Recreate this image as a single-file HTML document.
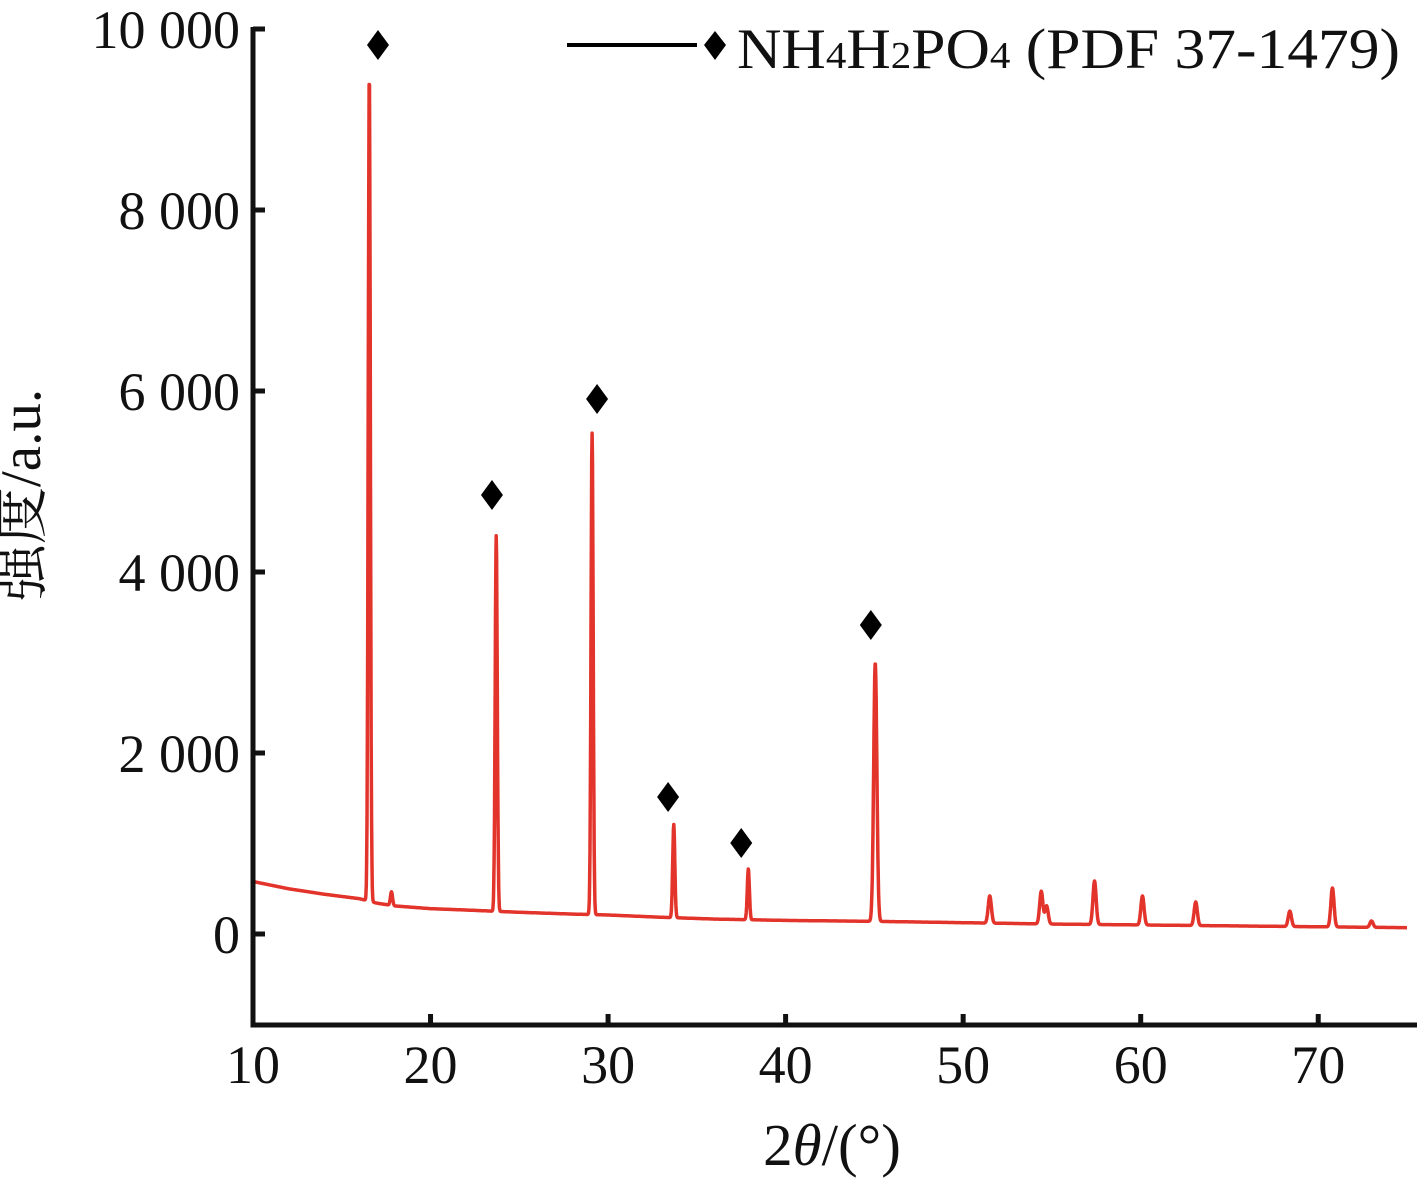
<!DOCTYPE html>
<html><head><meta charset="utf-8"><style>
body{margin:0;background:#fff}
svg text{font-family:"Liberation Serif","Noto Serif CJK SC",serif;fill:#111}
</style></head><body>
<svg id="chart" width="1417" height="1181" viewBox="0 0 1417 1181" xmlns="http://www.w3.org/2000/svg">
<g id="plot"></g>
<text x="40" y="495" font-size="57" text-anchor="middle" transform="rotate(-90 40 495)">强度/a.u.</text>
<text x="832" y="1165" font-size="59" text-anchor="middle">2<tspan font-style="italic">θ</tspan>/(°)</text>
<g>
<line x1="567" y1="45" x2="697" y2="45" stroke="#000" stroke-width="4"/>
<path d="M715,31 L726,45 L715,60 L704,45 Z" fill="#000"/>
<text x="737" y="68" font-size="57" textLength="663" lengthAdjust="spacingAndGlyphs">NH<tspan font-size="38">4</tspan>H<tspan font-size="38">2</tspan>PO<tspan font-size="38">4</tspan> (PDF 37-1479)</text>
</g>
</svg>
<script>
const xTicks=[10,20,30,40,50,60,70];
const yTicks=[0,2000,4000,6000,8000,10000];
const yTickLabels=["0","2 000","4 000","6 000","8 000","10 000"];
const baseX=[10,12,14,16,17,18,20,22,25,28,30,33,36,40,45,50,55,60,65,70,75];
const baseY=[580,500,440,390,340,310,280,265,240,220,210,185,165,150,140,125,110,100,90,80,70];
const peakPos=[16.55,17.8,23.7,29.1,33.7,37.9,45.05,51.5,54.4,54.7,57.4,60.1,63.1,68.4,70.8,73.0];
const peakHeight=[9150,150,4150,5320,1030,560,2860,300,360,200,480,320,260,170,430,70];
const markerX=[17.04,23.46,29.38,33.38,37.5,44.8];
const markerY=[9823,4851,5912,1514,1006,3414];
(function(){
const X0=253,X1=1407,Y0=1025,Y1=30;
const xs=v=>X0+(v-10)/(75-10)*(X1-X0);
const ys=v=>934-v/2000*181;
const NS="http://www.w3.org/2000/svg";
const g=document.getElementById('plot');
function mk(t,a){const e=document.createElementNS(NS,t);for(const k in a)e.setAttribute(k,a[k]);g.appendChild(e);return e;}
function base(x){for(let i=0;i<baseX.length-1;i++){if(x<=baseX[i+1]){const t=(x-baseX[i])/(baseX[i+1]-baseX[i]);return baseY[i]+t*(baseY[i+1]-baseY[i]);}}return baseY[baseY.length-1];}
let d="";
for(let x=10;x<=75.0001;x+=0.02){let y=base(x);for(let i=0;i<peakPos.length;i++){const s=peakPos[i]>40?0.09:0.06;y+=peakHeight[i]*Math.exp(-((x-peakPos[i])*(x-peakPos[i]))/(2*s*s));}
d+=(d?"L":"M")+xs(x).toFixed(1)+","+ys(y).toFixed(1);}
const line=mk('path',{d:d,fill:'none',stroke:'#e3342b','stroke-width':3.5,'stroke-linejoin':'round'});


markerX.forEach((mx,i)=>{const cx=xs(mx),cy=ys(markerY[i]);
const m=mk('path',{d:"M"+cx+","+(cy-15)+" L"+(cx+11)+","+cy+" L"+cx+","+(cy+15)+" L"+(cx-11)+","+cy+" Z",fill:'#000'});

});
const ax=mk('path',{d:"M"+X0+","+(Y1-3)+" L"+X0+","+Y0+" L"+(X1+10)+","+Y0,fill:'none',stroke:'#111','stroke-width':5});


xTicks.forEach(v=>{const x=xs(v);
const t=mk('line',{x1:x,y1:Y0,x2:x,y2:Y0-11,stroke:'#111','stroke-width':5});


const l=mk('text',{x:x,y:1083,'font-size':54,'text-anchor':'middle'});l.textContent=v;

});
yTicks.forEach((v,i)=>{const y=ys(v);
const t=mk('line',{x1:X0,y1:y,x2:X0+12,y2:y,stroke:'#111','stroke-width':5});


const l=mk('text',{x:240,y:y+19,'font-size':54,'text-anchor':'end'});l.textContent=yTickLabels[i];

});
})();
</script>
</body></html>
